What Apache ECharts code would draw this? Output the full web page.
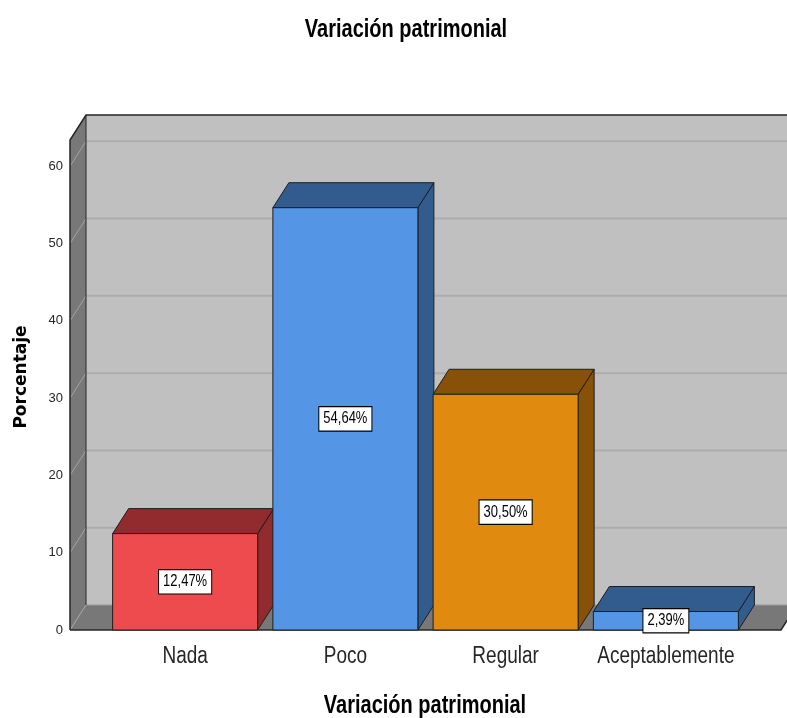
<!DOCTYPE html>
<html>
<head>
<meta charset="utf-8">
<script src="https://cdn.jsdelivr.net/npm/echarts@6/dist/echarts.min.js"></script>
<style>
  html, body { margin: 0; padding: 0; background: #ffffff; }
  #chart { width: 787px; height: 718px; }
</style>
</head>
<body>
<div id="chart"></div>
<script>
// Data
const categories = ['Nada', 'Poco', 'Regular', 'Aceptablemente'];
const percentages = [12.47, 54.64, 30.50, 2.39];
const yTicks = [0, 10, 20, 30, 40, 50, 60];
const yMax = 63.4;

// Styling
const frontColors = ['#ee4b4f', '#5496e5', '#e08a10', '#5496e5'];
const shadeColors = ['#912b2e', '#325c8e', '#885108', '#325c8e'];
const DX = 16, DY = -25;       // depth offset of the 3D box
const SIDE_PAD = 35;           // room between walls and outer bars
const BAR_RATIO = 0.905;
const SANS = "'Liberation Sans', Arial, sans-serif";
const TALL = 1.27;             // vertical stretch of the text glyphs

function fmtPct(v) { return v.toFixed(2).replace('.', ',') + '%'; }

// Back wall, left wall, floor and grid lines
function renderBox(params, api) {
  const band = api.size([1, 0])[0];
  const x0 = api.coord([0, 0])[0] - band / 2 - SIDE_PAD;
  const x1 = api.coord([categories.length - 1, 0])[0] + band / 2 + SIDE_PAD;
  const yBase = api.coord([0, 0])[1];
  const yTop = api.coord([0, yMax])[1];
  const children = [];

  children.push({ type: 'rect', shape: { x: x0 + DX, y: yTop + DY, width: x1 - x0 + 20, height: yBase - yTop },
    style: { fill: '#c0c0c0' } });
  yTicks.forEach(v => {
    if (v === 0) return;
    const y = api.coord([0, v])[1];
    children.push({ type: 'line', shape: { x1: x0 + DX, y1: y + DY, x2: x1 + DX + 20, y2: y + DY },
      style: { stroke: '#adadad', lineWidth: 2 } });
  });
  children.push({ type: 'polygon', shape: { points: [[x0, yBase], [x0, yTop], [x0 + DX, yTop + DY], [x0 + DX, yBase + DY]] },
    style: { fill: '#787878' } });
  children.push({ type: 'polygon', shape: { points: [[x0, yBase], [x0 + DX, yBase + DY], [x1 + DX, yBase + DY], [x1, yBase]] },
    style: { fill: '#787878' } });
  yTicks.forEach(v => {
    const y = api.coord([0, v])[1];
    children.push({ type: 'line', shape: { x1: x0, y1: y, x2: x0 + DX, y2: y + DY },
      style: { stroke: '#a4a4a4', lineWidth: 1 } });
  });
  children.push({ type: 'line', shape: { x1: x0 + DX, y1: yBase + DY, x2: x1 + DX, y2: yBase + DY },
    style: { stroke: '#9a9a9a', lineWidth: 1 } });
  children.push({ type: 'line', shape: { x1: x0 + DX, y1: yTop + DY, x2: x0 + DX, y2: yBase + DY },
    style: { stroke: '#3a3a3a', lineWidth: 1.2 } });
  children.push({ type: 'polyline', shape: { points: [[x0, yBase], [x0, yTop], [x0 + DX, yTop + DY], [x1 + DX + 20, yTop + DY]] },
    style: { stroke: '#262626', lineWidth: 1.5, fill: null } });
  children.push({ type: 'polyline', shape: { points: [[x0, yBase], [x1, yBase], [x1 + DX, yBase + DY]] },
    style: { stroke: '#262626', lineWidth: 1.5, fill: null } });
  return { type: 'group', children };
}

// 3D bars with value labels and category names
function renderBar(params, api) {
  const i = api.value(0);
  const v = api.value(1);
  const band = api.size([1, 0])[0];
  const w = band * BAR_RATIO;
  const cx = api.coord([i, 0])[0];
  const y0 = api.coord([i, 0])[1];
  const y1 = api.coord([i, v])[1];
  const xl = cx - w / 2, xr = cx + w / 2;
  const edge = { stroke: '#1e1e1e', lineWidth: 1 };
  return {
    type: 'group',
    children: [
      { type: 'polygon', shape: { points: [[xr, y1], [xr + DX, y1 + DY], [xr + DX, y0 + DY], [xr, y0]] },
        style: Object.assign({ fill: shadeColors[i] }, edge) },
      { type: 'polygon', shape: { points: [[xl, y1], [xl + DX, y1 + DY], [xr + DX, y1 + DY], [xr, y1]] },
        style: Object.assign({ fill: shadeColors[i] }, edge) },
      { type: 'rect', shape: { x: xl, y: y1, width: w, height: y0 - y1 },
        style: Object.assign({ fill: frontColors[i] }, edge) },
      { type: 'text', x: cx, y: (y0 + y1) / 2, scaleY: 1.22,
        style: { text: fmtPct(v), align: 'center', verticalAlign: 'middle',
          fontFamily: SANS, fontSize: 13, lineHeight: 14, fill: '#000',
          backgroundColor: '#ffffff', borderColor: '#000000', borderWidth: 1, padding: [3, 4, 2, 4] } },
      { type: 'text', x: cx, y: y0 + 26, scaleY: TALL,
        style: { text: categories[i], align: 'center', verticalAlign: 'middle',
          fontFamily: SANS, fontSize: 19, fill: '#262626' } }
    ]
  };
}

const chart = echarts.init(document.getElementById('chart'), null, { renderer: 'canvas' });
chart.setOption({
  animation: false,
  backgroundColor: '#ffffff',
  grid: { left: 105, right: 41, top: 140, bottom: 88, containLabel: false },
  xAxis: {
    type: 'category', data: categories, boundaryGap: true,
    axisLine: { show: false }, axisTick: { show: false }, splitLine: { show: false },
    axisLabel: { show: false }
  },
  yAxis: {
    type: 'value', min: 0, max: yMax, interval: 10,
    axisLine: { show: false }, axisTick: { show: false }, splitLine: { show: false },
    axisLabel: { margin: 42, showMaxLabel: false, fontFamily: SANS, fontSize: 13, color: '#262626' }
  },
  graphic: [
    { type: 'text', x: 406, y: 30, scaleY: TALL,
      style: { text: 'Variación patrimonial', align: 'center', verticalAlign: 'middle',
        fontFamily: SANS, fontWeight: 'bold', fontSize: 20, fill: '#000' } },
    { type: 'text', x: 425, y: 706, scaleY: TALL,
      style: { text: 'Variación patrimonial', align: 'center', verticalAlign: 'middle',
        fontFamily: SANS, fontWeight: 'bold', fontSize: 20, fill: '#000' } },
    { type: 'text', x: 22, y: 377, rotation: Math.PI / 2,
      style: { text: 'Porcentaje', align: 'center', verticalAlign: 'middle',
        fontFamily: "'DejaVu Sans', sans-serif", fontWeight: 'bold', fontSize: 17, fill: '#000' } }
  ],
  series: [
    { type: 'custom', z: 1, renderItem: renderBox, data: [[0, 0]], silent: true, clip: false },
    { type: 'custom', z: 2, renderItem: renderBar, data: percentages.map((v, i) => [i, v]), silent: true, clip: false }
  ]
});
</script>
</body>
</html>
